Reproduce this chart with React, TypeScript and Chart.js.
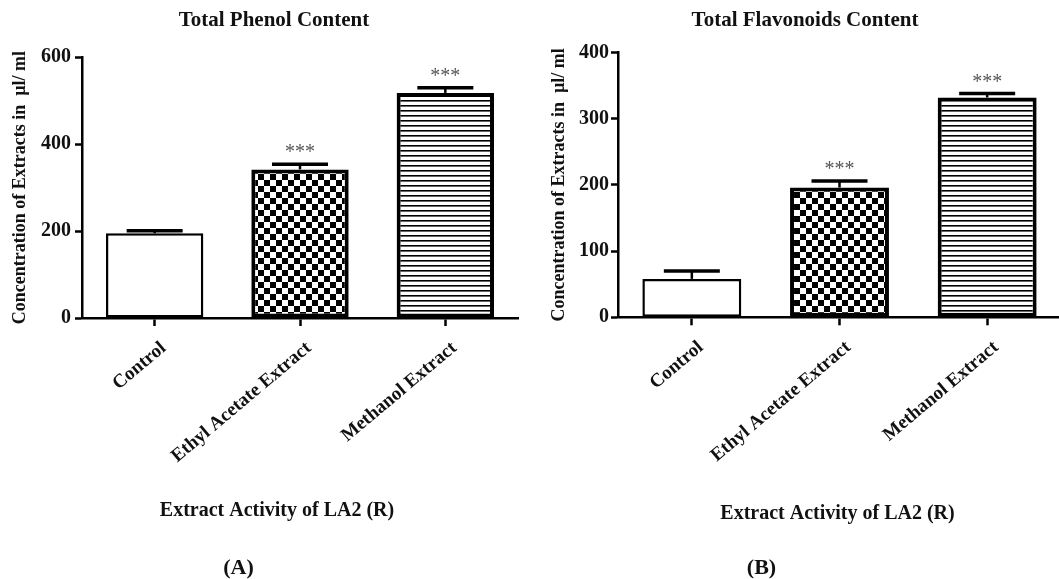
import React, { useEffect, useRef } from "react";
import { Chart, registerables } from "chart.js";
Chart.register(...registerables);

const categories = ["Control", "Ethyl Acetate Extract", "Methanol Extract"];
const phenolValues = [195, 342, 518];
const phenolErrors = [6, 12, 12];
const flavonoidValues = [58, 196, 332];
const flavonoidErrors = [12, 10, 6];
const significance = ["", "***", "***"];
const phenolTicks = [0, 200, 400, 600];
const flavonoidTicks = [0, 100, 200, 300, 400];
const yAxisTitle = "Concentration of Extracts in  \u00b5l/ ml";
const xAxisTitle = "Extract Activity of LA2 (R)";
const titleA = "Total Phenol Content";
const titleB = "Total Flavonoids Content";
const panelA = "(A)";
const panelB = "(B)";

const FAMILY = '"Liberation Serif", "Times New Roman", Times, serif';

function makeChecker(): CanvasPattern | string {
  const c = document.createElement("canvas");
  c.width = 12;
  c.height = 12;
  const g = c.getContext("2d");
  if (!g) return "#888";
  g.fillStyle = "#fff";
  g.fillRect(0, 0, 12, 12);
  g.fillStyle = "#000";
  g.fillRect(0, 0, 6, 6);
  g.fillRect(6, 6, 6, 6);
  return g.createPattern(c, "repeat") || "#888";
}

function makeStripes(): CanvasPattern | string {
  const c = document.createElement("canvas");
  c.width = 10;
  c.height = 5;
  const g = c.getContext("2d");
  if (!g) return "#888";
  g.fillStyle = "#fff";
  g.fillRect(0, 0, 10, 5);
  g.fillStyle = "#000";
  g.fillRect(0, 0, 10, 1);
  g.fillStyle = "#666";
  g.fillRect(0, 1, 10, 1);
  return g.createPattern(c, "repeat") || "#888";
}

type PanelCfg = {
  left: number;
  width: number;
  values: number[];
  errors: number[];
  ticks: number[];
  top: number;
  bottom: number;
  padRight: number;
  yAxisWidth: number;
  yTitlePad: number;
  yTickPad: number;
  texts: { text: string; x: number; y: number; size: number }[];
};

const HEIGHT = 579;

function buildChart(canvas: HTMLCanvasElement, cfg: PanelCfg) {
  const checker = makeChecker();
  const stripes = makeStripes();
  const tickVals = cfg.ticks;

  const textPlugin = {
    id: "panelTexts",
    afterDraw(chart: any) {
      const ctx = chart.ctx;
      ctx.save();
      ctx.fillStyle = "#111";
      ctx.textAlign = "center";
      ctx.textBaseline = "middle";
      cfg.texts.forEach((t) => {
        ctx.font = `bold ${t.size}px ${FAMILY}`;
        ctx.fillText(t.text, t.x, t.y);
      });
      ctx.restore();
    },
  };

  const errorPlugin = {
    id: "errorBars",
    afterDatasetsDraw(chart: any) {
      const ctx = chart.ctx;
      const meta = chart.getDatasetMeta(0);
      const ys = chart.scales.y;
      ctx.save();
      ctx.strokeStyle = "#000";
      meta.data.forEach((bar: any, i: number) => {
        const v = cfg.values[i];
        const e = cfg.errors[i];
        const yb = ys.getPixelForValue(v);
        const yt = ys.getPixelForValue(v + e);
        ctx.lineWidth = 2.5;
        ctx.beginPath();
        ctx.moveTo(bar.x, yb);
        ctx.lineTo(bar.x, yt);
        ctx.stroke();
        ctx.lineWidth = 3.5;
        ctx.beginPath();
        ctx.moveTo(bar.x - 28, yt);
        ctx.lineTo(bar.x + 28, yt);
        ctx.stroke();
        if (significance[i]) {
          ctx.fillStyle = "#555";
          ctx.font = `20px ${FAMILY}`;
          ctx.textAlign = "center";
          ctx.textBaseline = "alphabetic";
          ctx.fillText(significance[i], bar.x, yt - 6);
        }
      });
      ctx.restore();
    },
  };

  return new Chart(canvas, {
    type: "bar",
    data: {
      labels: categories,
      datasets: [
        {
          data: cfg.values,
          backgroundColor: ["#ffffff", checker as any, stripes as any],
          borderColor: "#000",
          borderWidth: [2.5, 4, 4],
          borderSkipped: false,
          categoryPercentage: 1,
          barPercentage: 0.67,
        },
      ],
    },
    options: {
      responsive: false,
      maintainAspectRatio: false,
      animation: false,
      layout: {
        padding: { top: cfg.top, right: cfg.padRight, left: 0, bottom: 0 },
      },
      plugins: {
        legend: { display: false },
        tooltip: { enabled: false },
        title: { display: false },
      },
      scales: {
        x: {
          type: "category",
          offset: true,
          grid: {
            offset: false,
            drawOnChartArea: false,
            drawTicks: true,
            tickLength: 8,
            tickWidth: 2.5,
            tickColor: "#000",
            color: "#000",
          },
          border: { display: true, color: "#000", width: 2.5 },
          ticks: {
            autoSkip: false,
            minRotation: 40,
            maxRotation: 40,
            padding: 11,
            labelOffset: 9,
            color: "#111",
            font: { family: FAMILY, size: 19, weight: "bold" },
          },
          afterFit: (s: any) => {
            s.height = HEIGHT - cfg.bottom;
          },
        },
        y: {
          type: "linear",
          min: tickVals[0],
          max: tickVals[tickVals.length - 1],
          afterBuildTicks: (s: any) => {
            s.ticks = tickVals.map((v) => ({ value: v }));
          },
          grid: {
            drawOnChartArea: false,
            drawTicks: true,
            tickLength: 7,
            tickWidth: 2.5,
            tickColor: "#000",
            color: "#000",
          },
          border: { display: true, color: "#000", width: 2.5 },
          ticks: {
            padding: cfg.yTickPad,
            color: "#111",
            font: { family: FAMILY, size: 20, weight: "bold" },
          },
          title: {
            display: true,
            text: yAxisTitle,
            color: "#111",
            font: { family: FAMILY, size: 18, weight: "bold" },
            padding: { top: cfg.yTitlePad, bottom: 0 },
          },
          afterFit: (s: any) => {
            s.width = cfg.yAxisWidth;
          },
        },
      },
    },
    plugins: [errorPlugin, textPlugin],
  } as any);
}

const panels: PanelCfg[] = [
  {
    left: 0,
    width: 530,
    values: phenolValues,
    errors: phenolErrors,
    ticks: phenolTicks,
    top: 57.3,
    bottom: 318,
    padRight: 12,
    yAxisWidth: 82,
    yTitlePad: 9.2,
    yTickPad: 4,
    texts: [
      { text: titleA, x: 274, y: 21, size: 21 },
      { text: xAxisTitle, x: 277, y: 511, size: 20 },
      { text: panelA, x: 238.5, y: 568, size: 22 },
    ],
  },
  {
    left: 530,
    width: 535,
    values: flavonoidValues,
    errors: flavonoidErrors,
    ticks: flavonoidTicks,
    top: 52.5,
    bottom: 317.3,
    padRight: 4,
    yAxisWidth: 88,
    yTitlePad: 18.7,
    yTickPad: 2,
    texts: [
      { text: titleB, x: 275, y: 21, size: 21 },
      { text: xAxisTitle, x: 307.5, y: 514, size: 20 },
      { text: panelB, x: 231.5, y: 568, size: 22 },
    ],
  },
];

function Panel({ cfg }: { cfg: PanelCfg }) {
  const ref = useRef<HTMLCanvasElement>(null);
  useEffect(() => {
    if (!ref.current) return;
    const chart = buildChart(ref.current, cfg);
    return () => chart.destroy();
  }, [cfg]);
  return (
    <canvas
      ref={ref}
      width={cfg.width}
      height={HEIGHT}
      style={{
        position: "absolute",
        left: cfg.left,
        top: 0,
        width: cfg.width,
        height: HEIGHT,
      }}
    />
  );
}

export default function App() {
  return (
    <div
      style={{
        position: "fixed",
        left: 0,
        top: 0,
        width: 1059,
        height: HEIGHT,
        overflow: "hidden",
        background: "#fff",
      }}
    >
      {panels.map((p, i) => (
        <Panel key={i} cfg={p} />
      ))}
    </div>
  );
}
